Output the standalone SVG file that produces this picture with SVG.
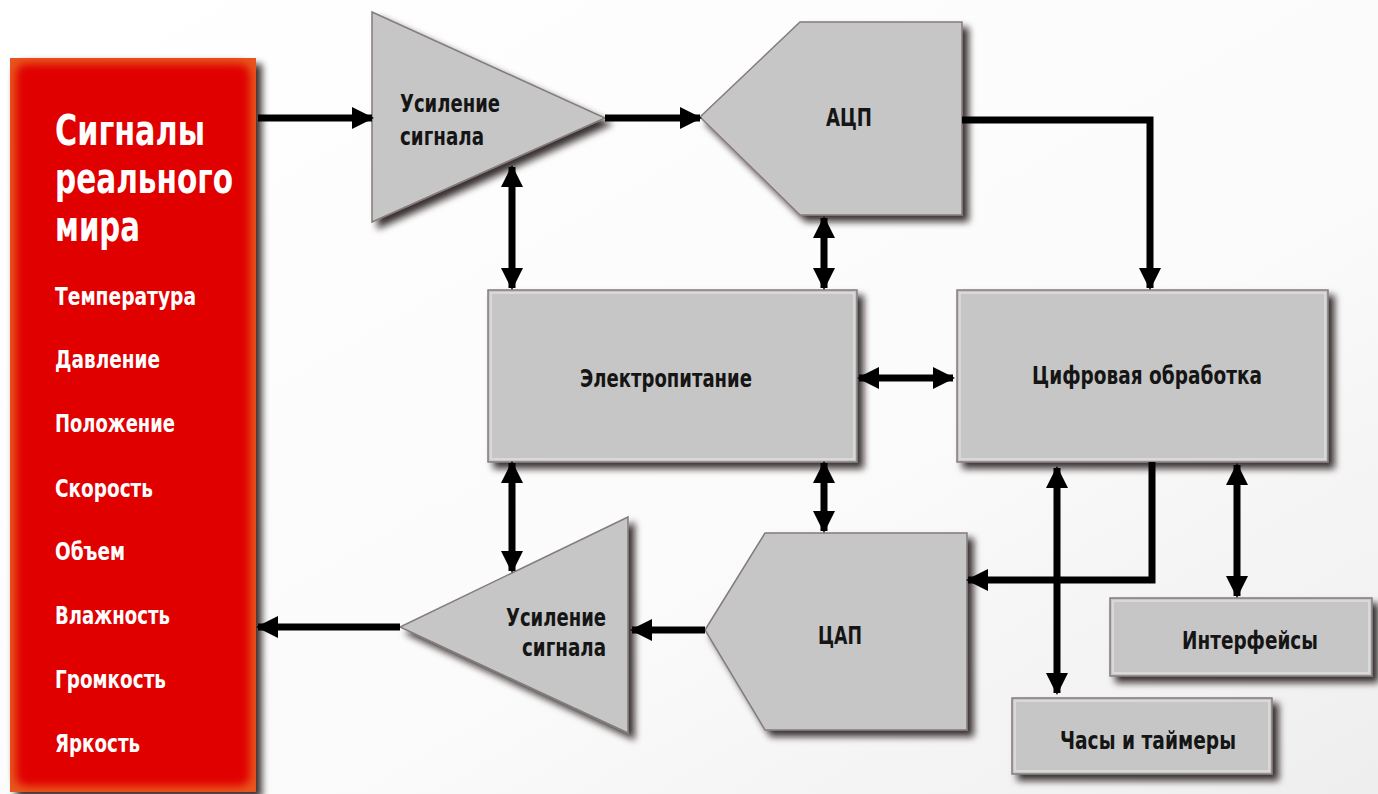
<svg xmlns="http://www.w3.org/2000/svg" width="1378" height="794" viewBox="0 0 1378 794">
<style>
.node{fill:#c6c6c6;stroke:#857b7b;stroke-width:1.5}
.hl{fill:none;stroke:#d9d9d9;stroke-width:2}
.lbl{font-family:"Liberation Sans Narrow","DejaVu Sans Condensed","Liberation Sans",sans-serif;font-stretch:condensed;font-weight:bold;font-size:25px;fill:#151515}
.wt{font-family:"Liberation Sans Narrow","DejaVu Sans Condensed","Liberation Sans",sans-serif;font-stretch:condensed;font-weight:bold;font-size:24px;fill:#ffffff}
.big{font-size:42px}
.con{fill:none;stroke:#000;stroke-width:7}
</style>
<defs>
<linearGradient id="bg" x1="0" y1="0" x2="1" y2="1">
<stop offset="0" stop-color="#ffffff"/>
<stop offset="0.6" stop-color="#fbfbfb"/>
<stop offset="1" stop-color="#eeeeee"/>
</linearGradient>
<filter id="sh" x="-10%" y="-10%" width="130%" height="130%">
<feGaussianBlur in="SourceAlpha" stdDeviation="3.5"/>
<feOffset dx="6" dy="6" result="b"/>
<feFlood flood-color="#1a1010" flood-opacity="0.85"/>
<feComposite in2="b" operator="in"/>
<feMerge><feMergeNode/><feMergeNode in="SourceGraphic"/></feMerge>
</filter>
<filter id="glow" x="-5%" y="-5%" width="110%" height="110%">
<feGaussianBlur stdDeviation="4"/>
</filter>
<marker id="ah" viewBox="0 0 22 22" refX="20" refY="11" markerWidth="22" markerHeight="22" markerUnits="userSpaceOnUse" orient="auto-start-reverse">
<path d="M0,0 L22,11 L0,22 z" fill="#000"/>
</marker>
</defs>
<rect width="1378" height="794" fill="url(#bg)"/>

<g id="real-world">
<rect x="10" y="58" width="246" height="734" fill="#e8541e" filter="url(#sh)"/>
<rect x="16" y="64" width="234" height="722" rx="10" fill="#e00000" filter="url(#glow)"/>
<text class="wt big" x="55" y="145" textLength="150" lengthAdjust="spacingAndGlyphs">Сигналы</text>
<text class="wt big" x="55" y="193" textLength="178" lengthAdjust="spacingAndGlyphs">реального</text>
<text class="wt big" x="55" y="241" textLength="85" lengthAdjust="spacingAndGlyphs">мира</text>
<text class="wt" x="55" y="305" textLength="141" lengthAdjust="spacingAndGlyphs">Температура</text>
<text class="wt" x="55" y="368" textLength="105" lengthAdjust="spacingAndGlyphs">Давление</text>
<text class="wt" x="55" y="432" textLength="120" lengthAdjust="spacingAndGlyphs">Положение</text>
<text class="wt" x="55" y="497" textLength="98" lengthAdjust="spacingAndGlyphs">Скорость</text>
<text class="wt" x="55" y="560" textLength="70" lengthAdjust="spacingAndGlyphs">Объем</text>
<text class="wt" x="55" y="624" textLength="115" lengthAdjust="spacingAndGlyphs">Влажность</text>
<text class="wt" x="55" y="688" textLength="111" lengthAdjust="spacingAndGlyphs">Громкость</text>
<text class="wt" x="55" y="752" textLength="85" lengthAdjust="spacingAndGlyphs">Яркость</text>
</g>

<g id="amp-in">
<polygon class="node" points="372,12 605,118 372,222" filter="url(#sh)"/>
<text class="lbl" x="400" y="112" textLength="100" lengthAdjust="spacingAndGlyphs">Усиление</text>
<text class="lbl" x="400" y="145" textLength="84" lengthAdjust="spacingAndGlyphs">сигнала</text>
</g>

<g id="adc">
<polygon class="node" points="700,117 800,22 962,22 962,215 800,215" filter="url(#sh)"/>
<text class="lbl" x="826" y="126" textLength="46" lengthAdjust="spacingAndGlyphs">АЦП</text>
</g>

<g id="power">
<rect class="node" x="488" y="290" width="369" height="172" filter="url(#sh)"/>
<rect class="hl" x="491" y="293" width="363" height="166"/>
<text class="lbl" x="580" y="387" textLength="172" lengthAdjust="spacingAndGlyphs">Электропитание</text>
</g>

<g id="digital">
<rect class="node" x="957" y="290" width="371" height="172" filter="url(#sh)"/>
<rect class="hl" x="960" y="293" width="365" height="166"/>
<text class="lbl" x="1032" y="384" textLength="230" lengthAdjust="spacingAndGlyphs">Цифровая обработка</text>
</g>

<g id="amp-out">
<polygon class="node" points="628,517 628,733 400,627" filter="url(#sh)"/>
<text class="lbl" x="506" y="626" textLength="100" lengthAdjust="spacingAndGlyphs">Усиление</text>
<text class="lbl" x="522" y="656" textLength="84" lengthAdjust="spacingAndGlyphs">сигнала</text>
</g>

<g id="dac">
<polygon class="node" points="705,630 765,533 967,533 967,730 765,730" filter="url(#sh)"/>
<text class="lbl" x="818" y="644" textLength="44" lengthAdjust="spacingAndGlyphs">ЦАП</text>
</g>

<g id="interfaces">
<rect class="node" x="1110" y="598" width="262" height="78" filter="url(#sh)"/>
<rect class="hl" x="1113" y="601" width="256" height="72"/>
<text class="lbl" x="1182" y="649" textLength="136" lengthAdjust="spacingAndGlyphs">Интерфейсы</text>
</g>

<g id="clocks">
<rect class="node" x="1012" y="698" width="260" height="76" filter="url(#sh)"/>
<rect class="hl" x="1015" y="701" width="254" height="70"/>
<text class="lbl" x="1060" y="749" textLength="176" lengthAdjust="spacingAndGlyphs">Часы и таймеры</text>
</g>

<g id="connectors">
<line class="con" x1="258" y1="118" x2="372" y2="118" marker-end="url(#ah)"/>
<line class="con" x1="605" y1="118" x2="700" y2="118" marker-end="url(#ah)"/>
<polyline class="con" points="962,120 1150,120 1150,288" marker-end="url(#ah)"/>
<line class="con" x1="512" y1="167" x2="512" y2="288" marker-start="url(#ah)" marker-end="url(#ah)"/>
<line class="con" x1="824" y1="218" x2="824" y2="288" marker-start="url(#ah)" marker-end="url(#ah)"/>
<line class="con" x1="859" y1="378" x2="953" y2="378" marker-start="url(#ah)" marker-end="url(#ah)"/>
<line class="con" x1="512" y1="463" x2="512" y2="571" marker-start="url(#ah)" marker-end="url(#ah)"/>
<line class="con" x1="824" y1="463" x2="824" y2="531" marker-start="url(#ah)" marker-end="url(#ah)"/>
<polyline class="con" points="1152,462 1152,580 968,580" marker-end="url(#ah)"/>
<line class="con" x1="1057" y1="468" x2="1057" y2="693" marker-start="url(#ah)" marker-end="url(#ah)"/>
<line class="con" x1="1237" y1="465" x2="1237" y2="596" marker-start="url(#ah)" marker-end="url(#ah)"/>
<line class="con" x1="705" y1="630" x2="632" y2="630" marker-end="url(#ah)"/>
<line class="con" x1="400" y1="627" x2="258" y2="627" marker-end="url(#ah)"/>
</g>
</svg>
